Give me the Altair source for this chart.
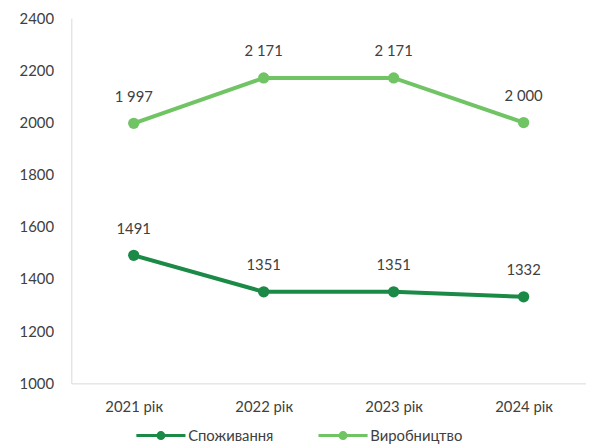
import altair as alt
import pandas as pd

years = ["2021 рік", "2022 рік", "2023 рік", "2024 рік"]
series = ["Споживання", "Виробництво"]
consumption = [1491, 1351, 1351, 1332]
production = [1997, 2171, 2171, 2000]
consumption_labels = ["1491", "1351", "1351", "1332"]
production_labels = ["1 997", "2 171", "2 171", "2 000"]
colors = ["#1a8a46", "#70c464"]
y_ticks = [1000, 1200, 1400, 1600, 1800, 2000, 2200, 2400]

rows = []
for yr, v, l in zip(years, consumption, consumption_labels):
    rows.append({"year": yr, "series": series[0], "value": v, "label": l})
for yr, v, l in zip(years, production, production_labels):
    rows.append({"year": yr, "series": series[1], "value": v, "label": l})
df = pd.DataFrame(rows)

FONT = "Lato"
TXT = "#404040"

x = alt.X("year:N", sort=years, scale=alt.Scale(type="point", padding=0.48),
          axis=alt.Axis(title=None, labelAngle=0, ticks=False, domainColor="#d9d9d9",
                        labelPadding=16, labelFontSize=15, labelColor=TXT, labelFont=FONT))
y = alt.Y("value:Q", scale=alt.Scale(domain=[1000, 2400], nice=False, zero=False),
          axis=alt.Axis(title=None, values=y_ticks, format="d", grid=False, ticks=False,
                        domainColor="#d9d9d9", labelPadding=18, labelFontSize=15,
                        labelColor=TXT, labelFont=FONT))

sym = "M-3.1,0H3.1M-0.38,0A0.38,0.38 0 1,1 0.38,0A0.38,0.38 0 1,1 -0.38,0Z"

base = alt.Chart(df)
line = base.mark_line(strokeWidth=4).encode(
    x=x, y=y,
    color=alt.Color("series:N", scale=alt.Scale(domain=series, range=colors),
                    legend=alt.Legend(title=None, orient="none", direction="horizontal",
                                      legendX=81, legendY=412, padding=0,
                                      symbolType=sym, symbolSize=256, symbolStrokeWidth=3,
                                      labelFontSize=15, labelColor=TXT, labelFont=FONT,
                                      columnPadding=38, symbolOffset=0, labelOffset=18)),
    detail="series:N",
)
pts = base.mark_point(filled=True, size=130, opacity=1).encode(
    x=x, y=y,
    fill=alt.Fill("series:N", scale=alt.Scale(domain=series, range=colors), legend=None),
)
text = base.mark_text(dy=-27, fontSize=15, color=TXT, font=FONT).encode(
    x=x, y=y, text="label:N"
)

chart = (line + pts + text).properties(
    width=520, height=369,
    padding={"left": 11, "top": 1, "right": 0, "bottom": 0},
).configure_view(stroke=None)

chart.save("out.html", embed_options={"renderer": "svg", "actions": False})
